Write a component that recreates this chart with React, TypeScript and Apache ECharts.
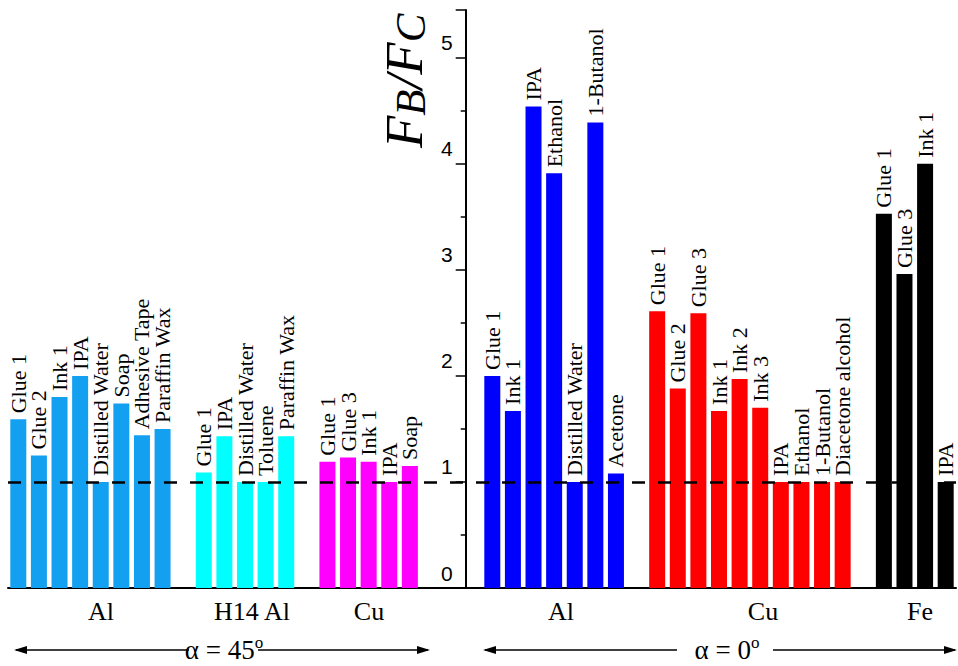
import React, { useEffect, useRef } from 'react';
import * as echarts from 'echarts';

// ---- data ----
const al45Names = ['Glue 1', 'Glue 2', 'Ink 1', 'IPA', 'Distilled Water', 'Soap', 'Adhesive Tape', 'Paraffin Wax'];
const al45Values = [1.59, 1.25, 1.8, 2.0, 1.0, 1.74, 1.44, 1.5];
const h14Names = ['Glue 1', 'IPA', 'Distilled Water', 'Toluene', 'Paraffin Wax'];
const h14Values = [1.09, 1.43, 1.0, 1.0, 1.43];
const cu45Names = ['Glue 1', 'Glue 3', 'Ink 1', 'IPA', 'Soap'];
const cu45Values = [1.19, 1.23, 1.19, 1.0, 1.15];
const al0Names = ['Glue 1', 'Ink 1', 'IPA', 'Ethanol', 'Distilled Water', '1-Butanol', 'Acetone'];
const al0Values = [2.0, 1.67, 4.54, 3.91, 1.0, 4.39, 1.08];
const cu0Names = ['Glue 1', 'Glue 2', 'Glue 3', 'Ink 1', 'Ink 2', 'Ink 3', 'IPA', 'Ethanol', '1-Butanol', 'Diacetone alcohol'];
const cu0Values = [2.61, 1.88, 2.59, 1.67, 1.97, 1.7, 1.0, 1.0, 1.0, 1.0];
const feNames = ['Glue 1', 'Glue 3', 'Ink 1', 'IPA'];
const feValues = [3.53, 2.96, 4.0, 1.0];

const groupLabels = ['Al', 'H14 Al', 'Cu', 'Al', 'Cu', 'Fe'];
const groupColors = ['#14A0F0', '#00FFFF', '#FF00FF', '#0000FF', '#FF0000', '#000000'];
const emptySlotsAfter = [1, 1, 3, 1, 1, 0];
const referenceValue = 1;

const groups = [
  { names: al45Names, values: al45Values },
  { names: h14Names, values: h14Values },
  { names: cu45Names, values: cu45Values },
  { names: al0Names, values: al0Values },
  { names: cu0Names, values: cu0Values },
  { names: feNames, values: feValues },
];

const SERIF = '"Liberation Serif", "DejaVu Serif", serif';
const SANS = '"Liberation Sans", Arial, sans-serif';

function buildSlots() {
  const cats: string[] = [];
  const data: any[] = [];
  groups.forEach((g, gi) => {
    g.names.forEach((n, i) => {
      cats.push(`${gi}-${i}`);
      data.push({ value: g.values[i], label: { formatter: n }, itemStyle: { color: groupColors[gi] } });
    });
    for (let k = 0; k < emptySlotsAfter[gi]; k++) {
      cats.push(`gap-${gi}-${k}`);
      data.push({ value: '-' });
    }
  });
  return { cats, data };
}

function arrow(x1: number, x2: number, y: number, headLeft: boolean, headRight: boolean) {
  const els: any[] = [
    { type: 'line', shape: { x1, y1: y, x2, y2: y }, style: { stroke: '#000', lineWidth: 1.3 } },
  ];
  if (headLeft) {
    els.push({ type: 'polygon', shape: { points: [[x1 - 2, y], [x1 + 11, y - 4], [x1 + 11, y + 4]] }, style: { fill: '#000' } });
  }
  if (headRight) {
    els.push({ type: 'polygon', shape: { points: [[x2 + 2, y], [x2 - 11, y - 4], [x2 - 11, y + 4]] }, style: { fill: '#000' } });
  }
  return els;
}

export default function App() {
  const ref = useRef<HTMLDivElement>(null);
  useEffect(() => {
    if (!ref.current) return;
    const chart = echarts.init(ref.current, undefined, { renderer: 'svg' });
    const { cats, data } = buildSlots();
    const gridLeft = 8;
    const axisX = 465.7;
    const labelXs = [101, 252, 369, 561, 763, 920];
    const alphaStyle = {
      a: { fontFamily: SERIF, fontSize: 27, fill: '#000' },
      o: { fontFamily: SERIF, fontSize: 17, fill: '#000', padding: [0, 0, 15, 0] },
    };
    const graphic: any[] = [
      {
        type: 'text',
        x: 404,
        y: 148,
        rotation: Math.PI / 2,
        style: {
          text: '{f|F}{s|B}{f|/F}{s|C}',
          align: 'left',
          verticalAlign: 'middle',
          rich: {
            f: { fontFamily: SERIF, fontStyle: 'italic', fontSize: 53, fill: '#000' },
            s: { fontFamily: SERIF, fontStyle: 'italic', fontSize: 43, fill: '#000', padding: [12, 0, 0, 0] },
          },
        },
      },
      ...groupLabels.map((t, i) => ({
        type: 'text',
        x: labelXs[i],
        y: 611,
        style: { text: t, fontFamily: SERIF, fontSize: 26, fill: '#000', align: 'center', verticalAlign: 'middle' },
      })),
      ...arrow(16, 189, 650, true, false),
      ...arrow(258, 428, 650, false, true),
      ...arrow(485, 677, 650, true, false),
      ...arrow(773, 955, 650, false, true),
      {
        type: 'text',
        x: 224,
        y: 650,
        style: { text: '{a|α = 45}{o|o}', align: 'center', verticalAlign: 'middle', rich: alphaStyle },
      },
      {
        type: 'text',
        x: 727,
        y: 650,
        style: { text: '{a|α = 0}{o|o}', align: 'center', verticalAlign: 'middle', rich: alphaStyle },
      },
    ];

    chart.setOption({
      animation: false,
      backgroundColor: '#fff',
      grid: { left: gridLeft, right: 2, top: 10, bottom: 78, outerBoundsMode: 'none', containLabel: false },
      xAxis: {
        type: 'category',
        data: cats,
        axisLine: { lineStyle: { color: '#000', width: 2 } },
        axisTick: { show: false },
        axisLabel: { show: false },
        splitLine: { show: false },
      },
      yAxis: {
        type: 'value',
        min: 0,
        max: 5.45,
        interval: 1,
        position: 'left',
        offset: -(axisX - gridLeft),
        axisLine: { show: true, lineStyle: { color: '#000', width: 2 } },
        axisTick: { show: true, length: 10, lineStyle: { color: '#000', width: 1.5 } },
        minorTick: { show: true, splitNumber: 2, length: 5, lineStyle: { color: '#000', width: 1.5 } },
        splitLine: { show: false },
        axisLabel: {
          fontFamily: SANS,
          fontSize: 21,
          color: '#000',
          margin: 13,
          verticalAlign: 'bottom',
          lineHeight: 30,
          showMaxLabel: false,
        },
      },
      series: [
        {
          type: 'bar',
          data,
          barWidth: 16,
          label: {
            show: true,
            position: 'top',
            rotate: 90,
            align: 'left',
            verticalAlign: 'middle',
            distance: 6,
            fontFamily: SERIF,
            fontSize: 22,
            color: '#000',
          },
          markLine: {
            silent: true,
            symbol: 'none',
            label: { show: false },
            lineStyle: { color: '#000', width: 2.5, type: [13, 13] },
            data: [{ yAxis: referenceValue }],
            z: 10,
          },
        },
      ],
      graphic,
    });
    return () => chart.dispose();
  }, []);
  return <div ref={ref} style={{ position: 'fixed', left: 0, top: 0, width: 958, height: 666 }} />;
}
